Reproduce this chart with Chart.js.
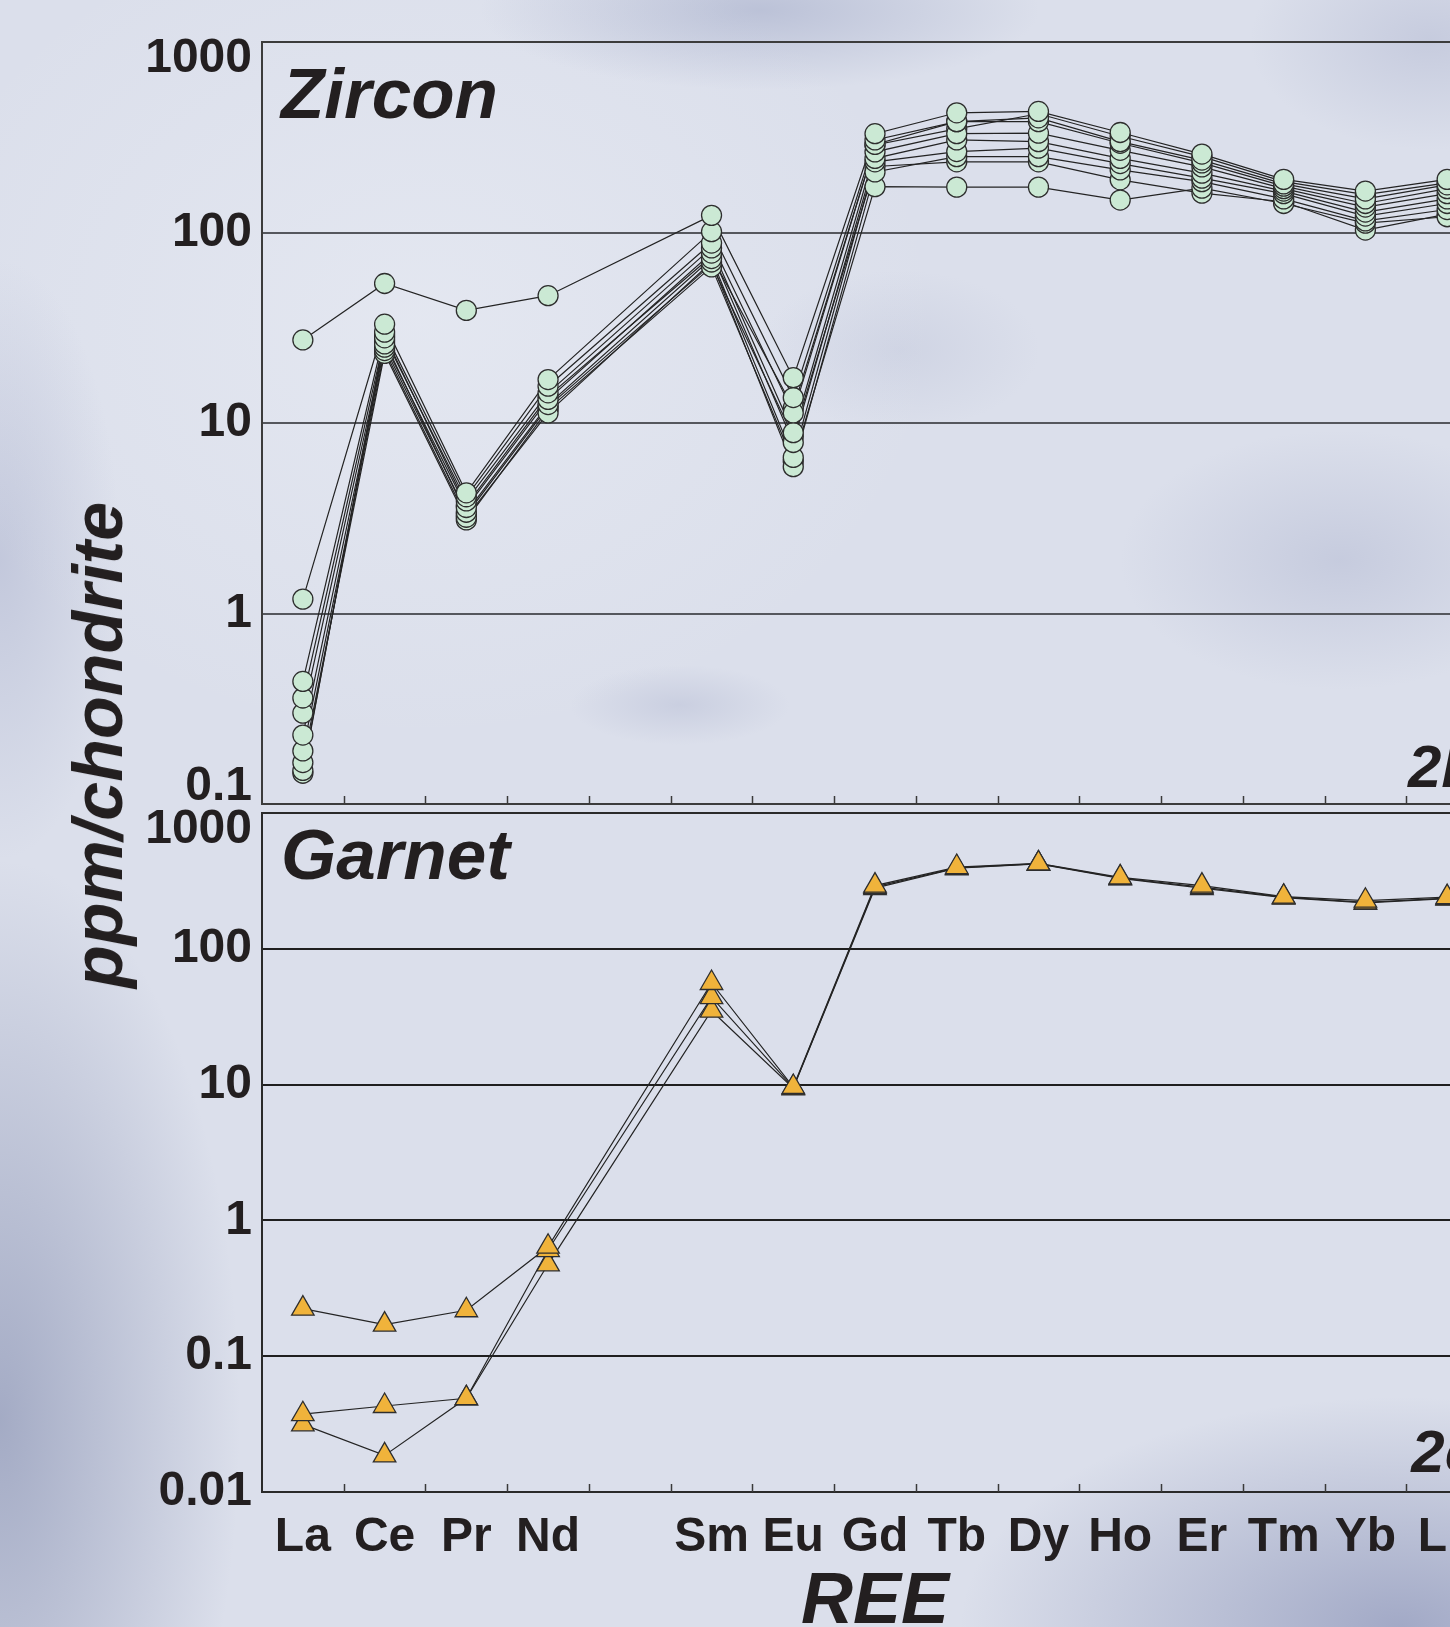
<!DOCTYPE html>
<html>
<head>
<meta charset="utf-8">
<title>REE patterns – zircon and garnet</title>
<script src="https://cdn.jsdelivr.net/npm/chart.js@4.4.1/dist/chart.umd.min.js"></script>
<style>
  html, body { margin: 0; padding: 0; width: 1450px; height: 1627px; overflow: hidden; }
  body {
    background-color: #dbdfeb;
    background-image:
      radial-gradient(ellipse 240px 560px at 0px 1420px, rgba(118,128,165,0.55), rgba(118,128,165,0)),
      radial-gradient(ellipse 440px 230px at 1400px 1627px, rgba(115,125,168,0.55), rgba(115,125,168,0)),
      radial-gradient(ellipse 120px 300px at 0px 560px, rgba(150,158,192,0.35), rgba(150,158,192,0)),
      radial-gradient(ellipse 280px 80px at 760px 10px, rgba(140,150,186,0.40), rgba(140,150,186,0)),
      radial-gradient(ellipse 220px 130px at 1340px 560px, rgba(150,158,192,0.30), rgba(150,158,192,0)),
      radial-gradient(ellipse 180px 110px at 1430px 40px, rgba(150,158,192,0.30), rgba(150,158,192,0)),
      radial-gradient(ellipse 110px 40px at 680px 705px, rgba(150,158,192,0.25), rgba(150,158,192,0)),
      radial-gradient(ellipse 140px 80px at 900px 350px, rgba(160,168,198,0.20), rgba(160,168,198,0)),
      radial-gradient(ellipse 520px 420px at 420px 320px, rgba(236,239,246,0.50), rgba(236,239,246,0));
  }
  #page { position: relative; width: 1450px; height: 1627px; overflow: hidden; }
  #zirconBox { position: absolute; left: 0; top: -20px; width: 1540px; height: 880px; }
  #garnetBox { position: absolute; left: 0; top: 750px; width: 1540px; height: 910px; }
  #yTitle {
    position: absolute; left: 98px; top: 745px;
    transform: translate(-50%, -50%) rotate(-90deg);
    font: italic bold 70px/70px "Liberation Sans", Arial, sans-serif;
    color: #231f20; white-space: nowrap;
  }
</style>
</head>
<body>
<div id="page">
  <div id="zirconBox"><canvas id="zirconChart" width="1540" height="880"></canvas></div>
  <div id="garnetBox"><canvas id="garnetChart" width="1540" height="910"></canvas></div>
  <div id="yTitle">ppm/chondrite</div>
</div>
<script>
// Rare earth elements along the x axis; the Pm slot is kept but left unlabelled.
const reeLabels = ['La', 'Ce', 'Pr', 'Nd', '', 'Sm', 'Eu', 'Gd', 'Tb', 'Dy', 'Ho', 'Er', 'Tm', 'Yb', 'Lu'];

// Decade ticks of the two logarithmic axes
const zirconTicks = [0.1, 1, 10, 100, 1000];
const garnetTicks = [0.01, 0.1, 1, 10, 100, 1000];

// Zircon analyses, chondrite-normalised (Pm not measured -> null)
const zr01 = [27.3, 54,   39,  46.6, null, 123, 17.3, 330, 425, 432, 335, 258, 190, 165, 190];
const zr02 = [1.19, 33,   4.3, 16.9, null, 101, 13.6, 306, 382, 400, 300, 240, 180, 150, 178];
const zr03 = [0.44, 30,   4.1, 15.6, null, 88,  11.3, 290, 382, 382, 294, 232, 175, 142, 170];
const zr04 = [0.36, 28,   3.9, 14.4, null, 83,  8.9,  265, 330, 332, 270, 221, 170, 136, 160];
const zr05 = [0.30, 26,   3.6, 13.3, null, 78,  7.9,  245, 306, 300, 245, 205, 165, 128, 150];
const zr06 = [0.23, 25,   3.4, 12.5, null, 73,  6.6,  235, 266, 277, 230, 193, 160, 122, 142];
const zr07 = [0.19, 24,   3.2, 11.3, null, 70,  5.9,  208, 250, 250, 213, 185, 150, 115, 132];
const zr08 = [0.165, 23.2, 3.1, 11.8, null, 66, 6.3,  174, 173, 173, 148, 171, 142, 112, 121];
const zr09 = [0.15, 27,   3.3, 12.2, null, 68,  8.5,  222, 235, 235, 189, 161, 145, 103, 125];
const zr10 = [0.145, 29,  3.7, 13.8, null, 75,  12,   288, 350, 420, 320, 250, 185, 158, 182];

// Garnet analyses, chondrite-normalised
const grt1 = [0.224,  0.171,  0.218, 0.64,  null, 56, 9.6, 292, 400, 425, 336, 292, 242, 226, 240];
const grt2 = [0.0374, 0.043,  0.049, 0.605, null, 44, 9.5, 286, 394, 424, 332, 285, 240, 220, 236];
const grt3 = [0.0315, 0.0186, 0.049, 0.475, null, 35, 9.4, 280, 392, 422, 330, 280, 238, 218, 234];

const zirconSeries = [zr01, zr02, zr03, zr04, zr05, zr06, zr07, zr08, zr09, zr10];
const garnetSeries = [grt1, grt2, grt3];

const FONT = '"Liberation Sans", Arial, Helvetica, sans-serif';
const INK = '#231f20';

// Lines first (higher order), symbols on top of every line.
function profileSets(series, mark) {
  const lines = series.map(d => ({
    data: d, order: 2, spanGaps: true, fill: false, tension: 0,
    borderColor: '#242424', borderWidth: 1.2, pointRadius: 0, pointHoverRadius: 0
  }));
  const symbols = series.map(d => ({
    data: d, order: 1, showLine: false,
    pointStyle: mark.shape, pointRadius: mark.radius, pointHoverRadius: mark.radius,
    pointBackgroundColor: mark.fill, pointBorderColor: '#2e2e2e', pointBorderWidth: 1.3
  }));
  return lines.concat(symbols);
}

// Frame, inward tick marks between REE slots, panel name and panel tag.
const panelDecor = {
  id: 'panelDecor',
  beforeDatasetsDraw(chart, args, opts) {
    const { ctx, chartArea: a } = chart;
    const x = chart.scales.x;
    ctx.save();
    ctx.strokeStyle = opts.frameColor;
    ctx.lineWidth = 2;
    ctx.strokeRect(a.left, a.top, a.right - a.left, a.bottom - a.top);

    const step = x.getPixelForValue(1) - x.getPixelForValue(0);
    ctx.lineWidth = 1.5;
    ctx.strokeStyle = '#3a3a3a';
    for (let i = 1; i < reeLabels.length; i++) {
      const bx = Math.round(x.getPixelForValue(i) - step / 2) + 0.5;
      ctx.beginPath();
      ctx.moveTo(bx, a.bottom);
      ctx.lineTo(bx, a.bottom - 8);
      ctx.stroke();
    }

    ctx.fillStyle = INK;
    ctx.textBaseline = 'alphabetic';
    ctx.textAlign = 'left';
    ctx.font = 'italic bold 71px ' + FONT;
    ctx.fillText(opts.name, a.left + 19, a.top + opts.nameBaseline);

    ctx.textAlign = 'right';
    ctx.font = 'italic bold 60px ' + FONT;
    ctx.fillText(opts.tag, a.right - 10, a.bottom - opts.tagBottom);
    ctx.restore();
  }
};

function yAxis(min, max, ticks, gridColor, labelFor) {
  return {
    type: 'logarithmic',
    position: 'left',
    min: min,
    max: max,
    afterFit: s => { s.width = 262; },
    afterBuildTicks: s => { s.ticks = ticks.map(v => ({ value: v })); },
    grid: { color: gridColor, lineWidth: 2, drawTicks: false },
    border: { display: true, color: '#333333', width: 2 },
    ticks: {
      padding: 10,
      color: INK,
      font: { family: FONT, size: 48, weight: 'bold', lineHeight: '34px' },
      callback: labelFor
    }
  };
}

const baseOptions = {
  responsive: false,
  animation: false,
  events: [],
  devicePixelRatio: 1
};

// Upper panel: zircon
new Chart(document.getElementById('zirconChart'), {
  type: 'line',
  data: {
    labels: reeLabels,
    datasets: profileSets(zirconSeries, { shape: 'circle', radius: 10, fill: '#cbe9d4' })
  },
  options: Object.assign({}, baseOptions, {
    layout: { padding: { top: 62, right: 52, bottom: 56, left: 0 } },
    scales: {
      x: { type: 'category', offset: true, display: false },
      y: yAxis(0.1, 1000, zirconTicks, '#55575d', v => {
        const t = String(v);
        if (v === 1000) return ['', t];
        if (v === 0.1) return [t, ''];
        return t;
      })
    },
    plugins: {
      legend: { display: false },
      tooltip: { enabled: false },
      panelDecor: { name: 'Zircon', nameBaseline: 76, tag: '2b', tagBottom: 17, frameColor: '#3c3c3c' }
    }
  }),
  plugins: [panelDecor]
});

// Lower panel: garnet
new Chart(document.getElementById('garnetChart'), {
  type: 'line',
  data: {
    labels: reeLabels,
    datasets: profileSets(garnetSeries, { shape: 'triangle', radius: 13, fill: '#f0b33b' })
  },
  options: Object.assign({}, baseOptions, {
    layout: { padding: { top: 63, right: 52, bottom: 0, left: 0 } },
    scales: {
      x: {
        type: 'category',
        offset: true,
        afterFit: s => { s.height = 168; },
        grid: { display: false, drawTicks: false },
        border: { display: true, color: '#333333', width: 2 },
        ticks: {
          autoSkip: false, maxRotation: 0, minRotation: 0, padding: 17,
          color: INK,
          font: { family: FONT, size: 48, weight: 'bold' }
        },
        title: {
          display: true,
          text: 'REE',
          color: INK,
          font: { family: FONT, size: 72, weight: 'bold', style: 'italic' },
          padding: { top: 0, bottom: 14 }
        }
      },
      y: yAxis(0.01, 1000, garnetTicks, '#1f1f1f', v => {
        const t = String(v);
        if (v === 1000) return ['', t];
        return t;
      })
    },
    plugins: {
      legend: { display: false },
      tooltip: { enabled: false },
      panelDecor: { name: 'Garnet', nameBaseline: 66, tag: '2c', tagBottom: 20, frameColor: '#2a2a2a' }
    }
  }),
  plugins: [panelDecor]
});
</script>
</body>
</html>
